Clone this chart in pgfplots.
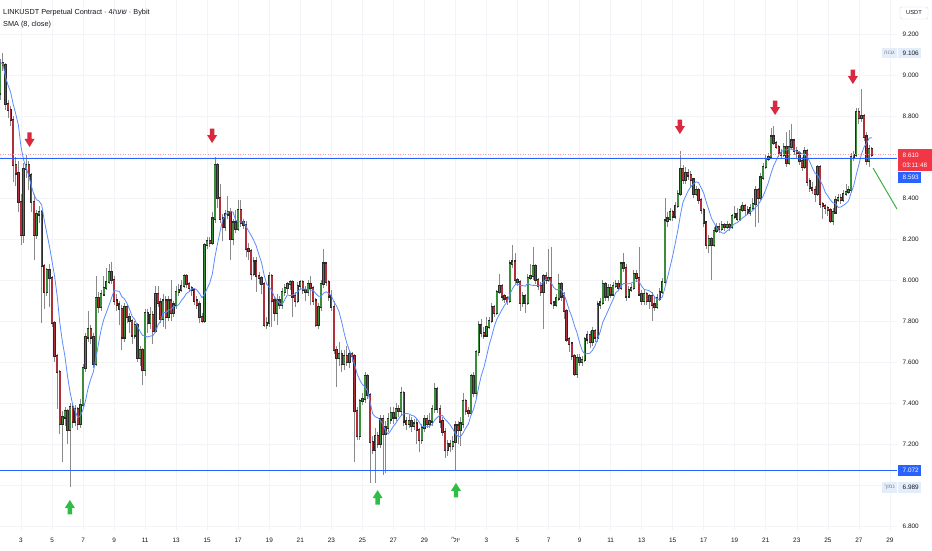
\documentclass[border=0pt]{standalone}
\usepackage{pgfplots}
\usepackage{pgfplotstable}
\pgfplotsset{compat=1.18}
\usepackage{fontspec}
\setmainfont{Liberation Sans}
\newfontfamily\hebfont[Script=Hebrew]{Liberation Sans}
\TeXXeTstate=1

\definecolor{upc}{HTML}{3B8C3B}
\definecolor{dnc}{HTML}{B0303A}
\definecolor{wickc}{HTML}{8A8A8A}
\definecolor{edgec}{HTML}{2A2A2A}
\definecolor{smac}{HTML}{5B8CFF}
\definecolor{lvl}{HTML}{2962FF}
\definecolor{gridc}{HTML}{F3F4F8}
\definecolor{txt}{HTML}{131722}
\definecolor{lastc}{HTML}{F23645}
\definecolor{lastdot}{HTML}{F5A3AB}
\definecolor{arrred}{HTML}{D9283F}
\definecolor{arrgrn}{HTML}{2DBE45}
\definecolor{trendc}{HTML}{3CB043}
\definecolor{hlbox}{HTML}{E4EDFA}
\definecolor{boxedge}{HTML}{D6D9E0}

% 4h candles, i = 0 is the 3rd at 00:00
\pgfplotstableread{
i o h l c
-8 8.91 9.08 8.88 9.06
-7 9.06 9.106 9.02 9.05
-6 9.05 9.06 8.83 8.86
-5 8.86 8.88 8.79 8.83
-4 8.83 8.85 8.75 8.78
-3 8.78 8.80 8.48 8.56
-2 8.56 8.60 8.46 8.52
-1 8.52 8.58 8.33 8.38
0 8.38 8.42 8.17 8.22
1 8.22 8.57 8.18 8.54
2 8.54 8.61 8.50 8.56
3 8.56 8.58 8.44 8.51
4 8.51 8.52 8.33 8.38
5 8.38 8.42 8.10 8.22
6 8.22 8.34 8.20 8.32
7 8.32 8.36 8.28 8.33
8 8.33 8.34 7.79 8.07
9 8.07 8.08 7.86 7.94
10 7.94 8.06 7.92 8.05
11 8.05 8.08 7.87 8.01
12 8.01 8.02 7.77 7.79
13 7.79 7.80 7.60 7.63
14 7.63 7.64 7.37 7.55
15 7.55 7.56 7.25 7.30
16 7.30 7.36 7.11 7.33
17 7.33 7.38 7.29 7.36
18 7.36 7.37 7.20 7.27
19 7.27 7.40 6.989 7.38
20 7.38 7.40 7.28 7.31
21 7.31 7.39 7.29 7.37
22 7.37 7.38 7.27 7.30
23 7.30 7.42 7.28 7.39
24 7.39 7.59 7.38 7.57
25 7.57 7.74 7.55 7.72
26 7.72 7.85 7.70 7.76
27 7.76 7.78 7.69 7.72
28 7.72 7.74 7.57 7.59
29 7.59 8.02 7.58 7.91
30 7.91 7.94 7.84 7.87
31 7.87 7.95 7.85 7.93
32 7.93 8.02 7.92 7.96
33 7.96 8.06 7.95 7.99
34 7.99 8.08 7.98 8.04
35 8.04 8.09 7.98 8.00
36 8.00 8.02 7.88 7.90
37 7.90 7.93 7.85 7.88
38 7.88 7.90 7.78 7.86
39 7.86 7.88 7.66 7.72
40 7.72 7.89 7.70 7.87
41 7.87 7.88 7.79 7.82
42 7.82 7.84 7.74 7.80
43 7.80 7.81 7.69 7.73
44 7.73 7.80 7.71 7.78
45 7.78 7.79 7.60 7.62
46 7.62 7.68 7.58 7.66
47 7.66 7.67 7.49 7.56
48 7.56 7.86 7.53 7.84
49 7.84 7.86 7.74 7.79
50 7.79 7.87 7.76 7.83
51 7.83 7.85 7.69 7.75
52 7.75 7.97 7.74 7.93
53 7.93 7.97 7.87 7.89
54 7.89 7.91 7.79 7.81
55 7.81 7.93 7.77 7.90
56 7.90 7.92 7.76 7.82
57 7.82 7.92 7.80 7.90
58 7.90 8.00 7.80 7.84
59 7.84 7.90 7.82 7.88
60 7.88 7.97 7.86 7.94
61 7.94 7.98 7.92 7.95
62 7.95 8.00 7.94 7.97
63 7.97 8.03 7.96 8.02
64 8.02 8.03 7.96 7.98
65 7.98 7.99 7.94 7.96
66 7.96 7.97 7.92 7.95
67 7.95 7.96 7.88 7.90
68 7.90 7.92 7.86 7.88
69 7.88 7.90 7.79 7.82
70 7.82 7.84 7.79 7.80
71 7.80 8.18 7.79 8.17
72 8.17 8.21 8.15 8.19
73 8.19 8.21 8.16 8.18
74 8.18 8.33 8.17 8.30
75 8.30 8.60 8.28 8.56
76 8.56 8.57 8.35 8.40
77 8.40 8.47 8.28 8.30
78 8.30 8.32 8.19 8.26
79 8.26 8.34 8.24 8.32
80 8.32 8.41 8.30 8.33
81 8.33 8.35 8.10 8.20
82 8.20 8.30 8.17 8.28
83 8.28 8.34 8.23 8.25
84 8.25 8.39 8.24 8.34
85 8.34 8.39 8.26 8.28
86 8.28 8.30 8.25 8.27
87 8.27 8.29 8.11 8.15
88 8.15 8.18 8.10 8.14
89 8.14 8.15 8.00 8.03
90 8.03 8.11 8.02 8.09
91 8.09 8.11 7.94 8.02
92 8.02 8.04 7.98 8.01
93 8.01 8.02 7.93 7.98
94 7.98 7.99 7.77 7.78
95 7.78 7.82 7.76 7.79
96 7.79 8.04 7.77 8.02
97 8.02 8.03 7.77 7.90
98 7.90 7.92 7.80 7.84
99 7.84 7.93 7.78 7.90
100 7.90 7.92 7.86 7.88
101 7.88 7.96 7.86 7.94
102 7.94 7.98 7.92 7.96
103 7.96 7.99 7.93 7.98
104 7.98 8.00 7.95 7.99
105 7.99 8.00 7.82 7.92
106 7.92 7.94 7.87 7.90
107 7.90 7.99 7.89 7.97
108 7.97 8.00 7.95 7.99
109 7.99 8.00 7.93 7.95
110 7.95 7.97 7.90 7.94
111 7.94 8.00 7.92 7.98
112 7.98 8.02 7.88 7.96
113 7.96 7.97 7.88 7.90
114 7.90 7.91 7.77 7.78
115 7.78 7.89 7.76 7.87
116 7.87 8.00 7.85 7.98
117 7.98 8.15 7.96 8.08
118 8.08 8.09 7.97 7.99
119 7.99 8.00 7.90 7.92
120 7.92 7.95 7.85 7.87
121 7.87 7.90 7.64 7.66
122 7.66 7.68 7.48 7.62
123 7.62 7.70 7.58 7.64
124 7.64 7.66 7.55 7.59
125 7.59 7.66 7.56 7.63
126 7.63 7.68 7.58 7.60
127 7.60 7.66 7.57 7.64
128 7.64 7.65 7.60 7.63
129 7.63 7.64 7.11 7.36
130 7.36 7.38 7.22 7.24
131 7.24 7.42 7.22 7.41
132 7.41 7.45 7.39 7.42
133 7.42 7.55 7.40 7.53
134 7.53 7.54 7.42 7.44
135 7.44 7.45 7.01 7.21
136 7.21 7.24 7.15 7.17
137 7.17 7.28 7.01 7.24
138 7.24 7.26 7.18 7.20
139 7.20 7.34 7.18 7.32
140 7.32 7.34 7.05 7.25
141 7.25 7.31 7.06 7.28
142 7.28 7.35 7.26 7.32
143 7.32 7.38 7.30 7.35
144 7.35 7.38 7.30 7.33
145 7.33 7.40 7.31 7.37
146 7.37 7.39 7.33 7.36
147 7.36 7.48 7.34 7.45
148 7.45 7.46 7.29 7.31
149 7.31 7.33 7.27 7.30
150 7.30 7.34 7.28 7.31
151 7.31 7.33 7.26 7.29
152 7.29 7.32 7.27 7.30
153 7.30 7.32 7.20 7.27
154 7.27 7.28 7.16 7.22
155 7.22 7.30 7.20 7.28
156 7.28 7.34 7.26 7.32
157 7.32 7.34 7.28 7.30
158 7.30 7.35 7.28 7.31
159 7.31 7.39 7.29 7.37
160 7.37 7.50 7.35 7.47
161 7.47 7.48 7.35 7.37
162 7.37 7.39 7.28 7.31
163 7.31 7.33 7.24 7.26
164 7.26 7.28 7.13 7.17
165 7.17 7.22 7.14 7.20
166 7.20 7.22 7.16 7.19
167 7.19 7.24 7.17 7.21
168 7.21 7.31 7.072 7.29
169 7.29 7.31 7.20 7.27
170 7.27 7.33 7.19 7.30
171 7.30 7.45 7.28 7.41
172 7.41 7.42 7.34 7.36
173 7.36 7.38 7.33 7.35
174 7.35 7.54 7.34 7.53
175 7.53 7.55 7.43 7.45
176 7.45 7.66 7.43 7.65
177 7.65 7.80 7.63 7.78
178 7.78 7.81 7.72 7.74
179 7.74 7.77 7.71 7.73
180 7.73 7.82 7.72 7.77
181 7.77 7.82 7.76 7.80
182 7.80 7.89 7.79 7.87
183 7.87 7.88 7.82 7.84
184 7.84 7.95 7.83 7.94
185 7.94 8.03 7.93 7.97
186 7.97 7.98 7.90 7.92
187 7.92 7.93 7.89 7.91
188 7.91 7.92 7.88 7.90
189 7.90 8.10 7.89 8.08
190 8.08 8.17 8.06 8.09
191 8.09 8.13 7.98 8.00
192 8.00 8.01 7.97 7.99
193 7.99 8.00 7.85 7.89
194 7.89 7.94 7.87 7.92
195 7.92 7.93 7.84 7.89
196 7.89 8.03 7.88 8.01
197 8.01 8.08 8.00 8.02
198 8.02 8.16 8.00 8.07
199 8.07 8.08 7.98 8.00
200 8.00 8.01 7.95 7.97
201 7.97 7.99 7.92 7.94
202 7.94 8.03 7.76 8.02
203 8.02 8.04 7.98 8.00
204 8.00 8.15 7.99 8.01
205 8.01 8.16 7.88 7.89
206 7.89 7.90 7.86 7.88
207 7.88 7.93 7.87 7.91
208 7.91 8.03 7.90 7.98
209 7.98 7.99 7.90 7.92
210 7.92 7.94 7.81 7.85
211 7.85 7.86 7.70 7.71
212 7.71 7.72 7.65 7.69
213 7.69 7.70 7.61 7.63
214 7.63 7.64 7.53 7.54
215 7.54 7.64 7.52 7.62
216 7.62 7.64 7.58 7.60
217 7.60 7.63 7.58 7.61
218 7.61 7.72 7.60 7.71
219 7.71 7.75 7.69 7.73
220 7.73 7.75 7.67 7.70
221 7.70 7.77 7.68 7.75
222 7.75 7.76 7.70 7.72
223 7.72 7.90 7.70 7.88
224 7.88 7.91 7.86 7.89
225 7.89 8.00 7.88 7.98
226 7.98 7.99 7.90 7.92
227 7.92 7.98 7.90 7.96
228 7.96 7.98 7.91 7.93
229 7.93 7.99 7.92 7.97
230 7.97 8.00 7.96 7.98
231 7.98 8.00 7.95 7.96
232 7.96 8.09 7.95 8.08
233 8.08 8.13 8.04 8.06
234 8.06 8.08 7.90 7.92
235 7.92 7.97 7.91 7.95
236 7.95 7.98 7.94 7.96
237 7.96 8.05 7.95 8.03
238 8.03 8.05 7.99 8.01
239 8.01 8.16 7.92 7.93
240 7.93 7.95 7.88 7.90
241 7.90 7.95 7.88 7.93
242 7.93 7.94 7.88 7.90
243 7.90 7.93 7.86 7.92
244 7.92 7.94 7.80 7.88
245 7.88 7.92 7.85 7.87
246 7.87 7.93 7.86 7.91
247 7.91 7.96 7.90 7.94
248 7.94 8.01 7.93 7.99
249 7.99 8.40 7.98 8.29
250 8.29 8.33 8.26 8.30
251 8.30 8.35 8.29 8.33
252 8.33 8.34 8.29 8.31
253 8.31 8.38 8.30 8.36
254 8.36 8.44 8.35 8.42
255 8.42 8.63 8.41 8.54
256 8.54 8.56 8.47 8.49
257 8.49 8.55 8.47 8.52
258 8.52 8.54 8.49 8.51
259 8.51 8.53 8.45 8.49
260 8.49 8.50 8.40 8.42
261 8.42 8.46 8.41 8.44
262 8.44 8.45 8.37 8.39
263 8.39 8.40 8.32 8.34
264 8.34 8.35 8.26 8.28
265 8.28 8.29 8.15 8.17
266 8.17 8.22 8.13 8.20
267 8.20 8.21 8.00 8.17
268 8.17 8.26 8.16 8.24
269 8.24 8.28 8.23 8.26
270 8.26 8.28 8.23 8.25
271 8.25 8.29 8.24 8.27
272 8.27 8.28 8.24 8.26
273 8.26 8.29 8.25 8.27
274 8.27 8.28 8.24 8.26
275 8.26 8.32 8.25 8.31
276 8.31 8.36 8.30 8.32
277 8.32 8.35 8.29 8.30
278 8.30 8.36 8.29 8.34
279 8.34 8.38 8.33 8.36
280 8.36 8.37 8.31 8.34
281 8.34 8.36 8.32 8.33
282 8.33 8.37 8.31 8.35
283 8.35 8.40 8.34 8.37
284 8.37 8.46 8.26 8.44
285 8.44 8.45 8.28 8.40
286 8.40 8.52 8.39 8.50
287 8.50 8.57 8.49 8.55
288 8.55 8.61 8.54 8.59
289 8.59 8.62 8.58 8.60
290 8.60 8.74 8.59 8.70
291 8.70 8.75 8.66 8.67
292 8.67 8.68 8.64 8.65
293 8.65 8.66 8.60 8.62
294 8.62 8.64 8.59 8.61
295 8.61 8.67 8.60 8.65
296 8.65 8.72 8.55 8.57
297 8.57 8.73 8.56 8.65
298 8.65 8.76 8.64 8.68
299 8.68 8.69 8.61 8.63
300 8.63 8.65 8.59 8.62
301 8.62 8.63 8.56 8.58
302 8.58 8.60 8.53 8.55
303 8.55 8.65 8.54 8.63
304 8.63 8.64 8.46 8.48
305 8.48 8.50 8.43 8.45
306 8.45 8.48 8.42 8.44
307 8.44 8.46 8.38 8.42
308 8.42 8.56 8.41 8.55
309 8.55 8.56 8.35 8.37
310 8.37 8.38 8.30 8.36
311 8.36 8.37 8.32 8.35
312 8.35 8.36 8.31 8.34
313 8.34 8.35 8.28 8.29
314 8.29 8.35 8.27 8.33
315 8.33 8.41 8.32 8.39
316 8.39 8.42 8.38 8.40
317 8.40 8.42 8.37 8.39
318 8.39 8.44 8.38 8.42
319 8.42 8.47 8.41 8.43
320 8.43 8.46 8.42 8.44
321 8.44 8.62 8.43 8.60
322 8.60 8.63 8.58 8.61
323 8.61 8.84 8.60 8.82
324 8.82 8.84 8.76 8.79
325 8.79 8.93 8.77 8.80
326 8.80 8.81 8.68 8.70
327 8.70 8.72 8.56 8.58
328 8.58 8.66 8.55 8.64
329 8.64 8.65 8.60 8.61
}\candles

% SMA(8, close), rolling window over the close column
\def\smapts{}
\def\wA{}\def\wB{}\def\wC{}\def\wD{}\def\wE{}\def\wF{}\def\wG{}\def\wH{}
\newcommand\smaadd[1]{%
  \ifx#1\empty\else
    \pgfmathparse{\smaacc+#1}\xdef\smaacc{\pgfmathresult}%
    \pgfmathparse{\smacnt+1}\xdef\smacnt{\pgfmathresult}%
  \fi}
\pgfplotstableforeachcolumnelement{c}\of\candles\as\cell{%
  \global\let\wH\wG \global\let\wG\wF \global\let\wF\wE \global\let\wE\wD
  \global\let\wD\wC \global\let\wC\wB \global\let\wB\wA \xdef\wA{\cell}%
  \gdef\smaacc{0}\gdef\smacnt{0}%
  \smaadd\wA\smaadd\wB\smaadd\wC\smaadd\wD\smaadd\wE\smaadd\wF\smaadd\wG\smaadd\wH
  \pgfmathparse{\smaacc/\smacnt}\let\smaval\pgfmathresult
  \pgfmathtruncatemacro\smax{\pgfplotstablerow-8}%
  \xdef\smapts{\smapts (\smax,\smaval)}%
}

\pgfdeclareplotmark{dnarrow}{%
  \pgfpathmoveto{\pgfpoint{-2.2pt}{7.5pt}}%
  \pgfpathlineto{\pgfpoint{2.2pt}{7.5pt}}%
  \pgfpathlineto{\pgfpoint{2.2pt}{1pt}}%
  \pgfpathlineto{\pgfpoint{5pt}{1pt}}%
  \pgfpathlineto{\pgfpoint{0pt}{-7pt}}%
  \pgfpathlineto{\pgfpoint{-5pt}{1pt}}%
  \pgfpathlineto{\pgfpoint{-2.2pt}{1pt}}%
  \pgfpathclose\pgfusepathqfill}
\pgfdeclareplotmark{uparrow}{%
  \pgfpathmoveto{\pgfpoint{-2.2pt}{-7.5pt}}%
  \pgfpathlineto{\pgfpoint{2.2pt}{-7.5pt}}%
  \pgfpathlineto{\pgfpoint{2.2pt}{-1pt}}%
  \pgfpathlineto{\pgfpoint{5pt}{-1pt}}%
  \pgfpathlineto{\pgfpoint{0pt}{7pt}}%
  \pgfpathlineto{\pgfpoint{-5pt}{-1pt}}%
  \pgfpathlineto{\pgfpoint{-2.2pt}{-1pt}}%
  \pgfpathclose\pgfusepathqfill}

\newcommand\lbl{\fontsize{6.4}{7}\selectfont}

\pgfplotsset{
  candle/.style={draw=none, mark=none, forget plot,
    error bars/y dir=minus, error bars/y explicit, error bars/error mark=none},
}

\begin{document}
\begin{tikzpicture}
\useasboundingbox (0pt,0pt) rectangle (932pt,550pt);
\fill[white] (0pt,0pt) rectangle (932pt,550pt);
\begin{axis}[
    at={(0pt,20pt)}, anchor=south west,
    scale only axis, width=897pt, height=530pt,
    xmin=-8.12, xmax=338.75, ymin=6.7805, ymax=9.3659,
    axis line style={draw=none},
    major tick length=0pt, tick style={draw=none},
    grid=major, grid style={gridc, line width=0.6pt},
    xtick={0,12,...,336},
    xticklabels={3,5,7,9,11,13,15,17,19,21,23,25,27,29,{\hebfont\beginR יול׳\endR},3,5,7,9,11,13,15,17,19,21,23,25,27,29},
    ytick={6.8,7,7.2,7.4,7.6,7.8,8,8.2,8.4,8.6,8.8,9,9.2},
    yticklabels={6.800,,7.200,7.400,7.600,7.800,8.000,8.200,8.400,,8.800,9.000,9.200},
    yticklabel pos=right,
    ticklabel style={font=\lbl, text=txt, inner sep=0pt},
    xticklabel style={anchor=center, yshift=-10pt},
    yticklabel style={anchor=west, xshift=5.5pt},
    clip mode=individual,
]
% wicks
\addplot[candle, error bars/error bar style={draw=wickc, line width=0.8pt}]
    table[x=i, y=h, y error expr=\thisrow{h}-\thisrow{l}] {\candles};
% body outlines
\addplot[candle, error bars/error bar style={draw=edgec, line width=2.3pt, line cap=rect}]
    table[x=i, y expr={max(\thisrow{o},\thisrow{c})},
          y error expr={abs(\thisrow{c}-\thisrow{o})}] {\candles};
% up bodies
\addplot[candle, restrict expr to domain={\thisrow{c}-\thisrow{o}}{0:5},
    error bars/error bar style={draw=upc, line width=1.5pt}]
    table[x=i, y expr={max(\thisrow{o},\thisrow{c})},
          y error expr={abs(\thisrow{c}-\thisrow{o})}] {\candles};
% down bodies
\addplot[candle, restrict expr to domain={\thisrow{c}-\thisrow{o}}{-5:-0.0001},
    error bars/error bar style={draw=dnc, line width=1.5pt}]
    table[x=i, y expr={max(\thisrow{o},\thisrow{c})},
          y error expr={abs(\thisrow{c}-\thisrow{o})}] {\candles};
% SMA
\edef\smaplot{\noexpand\addplot[smac, line width=0.8pt, forget plot] coordinates {\smapts};}
\smaplot
% levels
\addplot[lastdot, line width=0.7pt, dash pattern=on 1pt off 1.5pt] coordinates {(-8.12,8.612) (338.75,8.612)};
\addplot[lvl, line width=1.3pt] coordinates {(-8.12,8.593) (338.75,8.593)};
\addplot[lvl, line width=1.3pt] coordinates {(-8.12,7.072) (338.75,7.072)};
% trend stroke
\addplot[trendc, line width=1pt] coordinates {(329.5,8.546) (338.75,8.346)};
% signal arrows
\addplot[only marks, mark=dnarrow, color=arrred, mark options={fill=arrred}]
    coordinates {(3.3,8.683) (73.9,8.702) (254.8,8.746) (291.6,8.839) (321.7,8.990)};
\addplot[only marks, mark=uparrow, color=arrgrn, mark options={fill=arrgrn}]
    coordinates {(18.9,6.893) (137.9,6.941) (168.2,6.976)};
\end{axis}

% title
\node[anchor=west, inner sep=0pt, font=\fontsize{7.3}{8}\selectfont, text=txt]
    at (3pt,537.5pt) {LINKUSDT Perpetual Contract · 4{\hebfont\beginR שעה\endR} · Bybit};
\node[anchor=west, inner sep=0pt, font=\fontsize{7.3}{8}\selectfont, text=txt]
    at (3pt,525.5pt) {SMA (8, close)};

% price scale labels
\draw[boxedge, fill=white, rounded corners=2pt] (900pt,543pt) rectangle (928pt,531pt);
\node[font=\fontsize{5.8}{6}\selectfont, text=txt, inner sep=0pt] at (914pt,537pt) {USDT};

\fill[hlbox] (898pt,502pt) rectangle (921pt,492pt);
\node[anchor=west, inner sep=0pt, font=\lbl, text=txt] at (902.5pt,497pt) {9.106};
\fill[hlbox] (882pt,502pt) rectangle (897pt,492pt);
\node[inner sep=0pt, font=\hebfont\fontsize{5.5}{6}\selectfont, text=gray] at (889.5pt,497pt) {\beginR גבוה\endR};

\fill[lastc] (898pt,401pt) rectangle (932pt,379pt);
\node[anchor=west, inner sep=0pt, font=\lbl, text=white] at (902.5pt,395pt) {8.610};
\node[anchor=west, inner sep=0pt, font=\lbl, text=white] at (902.5pt,385pt) {03:11:48};

\fill[lvl] (898pt,378pt) rectangle (921pt,367pt);
\node[anchor=west, inner sep=0pt, font=\lbl, text=white] at (902.5pt,372.5pt) {8.593};

\fill[lvl] (898pt,85pt) rectangle (921pt,74pt);
\node[anchor=west, inner sep=0pt, font=\lbl, text=white] at (902.5pt,79.5pt) {7.072};

\fill[hlbox] (898pt,68pt) rectangle (921pt,57pt);
\node[anchor=west, inner sep=0pt, font=\lbl, text=txt] at (902.5pt,62.5pt) {6.989};
\fill[hlbox] (882pt,68pt) rectangle (897pt,57pt);
\node[inner sep=0pt, font=\hebfont\fontsize{5.5}{6}\selectfont, text=gray] at (889.5pt,62.5pt) {\beginR נמוך\endR};
\end{tikzpicture}
\end{document}
